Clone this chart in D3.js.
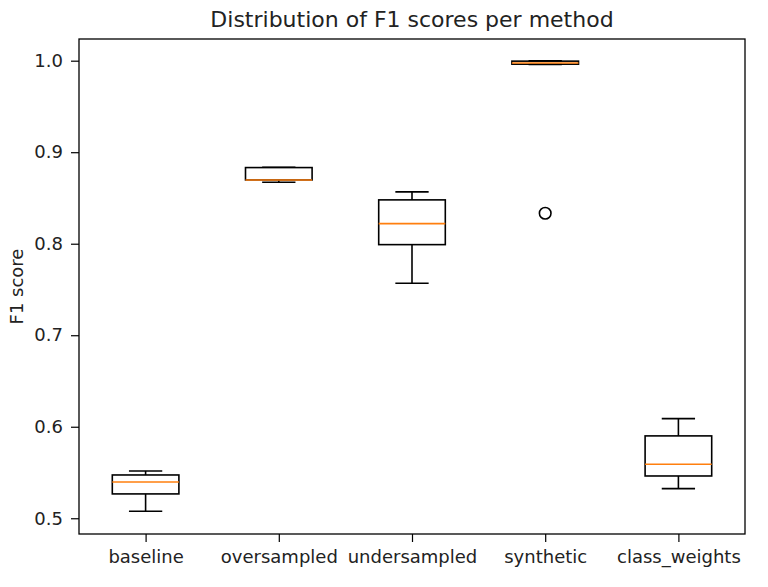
<!DOCTYPE html>
<html>
<head>
<meta charset="utf-8">
<script src="https://cdn.jsdelivr.net/npm/d3@7"></script>
<style>
  body { margin: 0; background: #fff; }
  text { font-family: "DejaVu Sans", sans-serif; fill: #222; }
</style>
</head>
<body>
<div id="chart"></div>
<script>
// methods on the x axis
const methods = ["baseline", "oversampled", "undersampled", "synthetic", "class_weights"];

// box statistics
const whiskerLow  = [0.5077, 0.8672, 0.7568, 0.9958, 0.5324];
const q1          = [0.5266, 0.8697, 0.7990, 0.9962, 0.5462];
const medians     = [0.5397, 0.8697, 0.8220, 0.9975, 0.5590];
const q3          = [0.5473, 0.8832, 0.8479, 0.9995, 0.5900];
const whiskerHigh = [0.5517, 0.8835, 0.8566, 1.0000, 0.6089];
const outliers    = [[], [], [], [0.8333], []];

const yTicks = [0.5, 0.6, 0.7, 0.8, 0.9, 1.0];

const W = 768, H = 587;
const margin = { top: 39, right: 23, bottom: 53, left: 79 };
const width = W - margin.left - margin.right;
const height = H - margin.top - margin.bottom;

const svg = d3.select("#chart").append("svg")
    .attr("width", W)
    .attr("height", H);

const g = svg.append("g")
    .attr("transform", "translate(" + margin.left + "," + margin.top + ")");

// matplotlib places boxes at 1..n with limits 0.5..n+0.5
const x = d3.scaleLinear()
    .domain([0.5, methods.length + 0.5])
    .range([0, width]);

const y = d3.scaleLinear()
    .domain([0.4828, 1.0237])
    .range([height, 0]);

const unit = x(2) - x(1);
const boxW = unit * 0.5;
const capW = unit * 0.25;
const lw = 1.6;

const data = methods.map((m, i) => ({
    key: m,
    pos: i + 1,
    lo: whiskerLow[i], q1: q1[i], med: medians[i], q3: q3[i], hi: whiskerHigh[i],
    fliers: outliers[i]
}));

const boxes = g.selectAll(".box")
    .data(data)
    .enter()
    .append("g")
    .attr("class", "box");

// whiskers
boxes.append("line")
    .attr("x1", d => x(d.pos)).attr("x2", d => x(d.pos))
    .attr("y1", d => y(d.q1)).attr("y2", d => y(d.lo))
    .attr("stroke", "#000").attr("stroke-width", lw);
boxes.append("line")
    .attr("x1", d => x(d.pos)).attr("x2", d => x(d.pos))
    .attr("y1", d => y(d.q3)).attr("y2", d => y(d.hi))
    .attr("stroke", "#000").attr("stroke-width", lw);

// caps
boxes.append("line")
    .attr("x1", d => x(d.pos) - capW / 2).attr("x2", d => x(d.pos) + capW / 2)
    .attr("y1", d => y(d.lo)).attr("y2", d => y(d.lo))
    .attr("stroke", "#000").attr("stroke-width", lw);
boxes.append("line")
    .attr("x1", d => x(d.pos) - capW / 2).attr("x2", d => x(d.pos) + capW / 2)
    .attr("y1", d => y(d.hi)).attr("y2", d => y(d.hi))
    .attr("stroke", "#000").attr("stroke-width", lw);

// box
boxes.append("rect")
    .attr("x", d => x(d.pos) - boxW / 2)
    .attr("width", boxW)
    .attr("y", d => y(d.q3))
    .attr("height", d => Math.max(0.5, y(d.q1) - y(d.q3)))
    .attr("fill", "none")
    .attr("stroke", "#000")
    .attr("stroke-width", lw);

// median
boxes.append("line")
    .attr("x1", d => x(d.pos) - boxW / 2).attr("x2", d => x(d.pos) + boxW / 2)
    .attr("y1", d => y(d.med)).attr("y2", d => y(d.med))
    .attr("stroke", "#ff7f0e").attr("stroke-width", lw);

// outliers
boxes.selectAll(".flier")
    .data(d => d.fliers.map(v => ({ pos: d.pos, v: v })))
    .enter()
    .append("circle")
    .attr("class", "flier")
    .attr("cx", d => x(d.pos))
    .attr("cy", d => y(d.v))
    .attr("r", 5.8)
    .attr("fill", "none")
    .attr("stroke", "#000")
    .attr("stroke-width", lw);

// axes
const xAxis = d3.axisBottom(x)
    .tickValues(data.map(d => d.pos))
    .tickFormat((d, i) => methods[i])
    .tickSize(8)
    .tickPadding(8);

const yAxis = d3.axisLeft(y)
    .tickValues(yTicks)
    .tickFormat(d3.format(".1f"))
    .tickSize(8)
    .tickPadding(8);

const xg = g.append("g")
    .attr("class", "x-axis axis")
    .attr("transform", "translate(0," + height + ")")
    .call(xAxis);

const yg = g.append("g")
    .attr("class", "y-axis axis")
    .call(yAxis);

[xg, yg].forEach(a => {
    a.select(".domain").remove();
    a.selectAll(".tick line").attr("stroke", "#000").attr("stroke-width", 1.2);
    a.selectAll(".tick text").attr("font-size", 18).attr("fill", "#222");
});

// frame
g.append("rect")
    .attr("width", width)
    .attr("height", height)
    .attr("fill", "none")
    .attr("stroke", "#000")
    .attr("stroke-width", 1.3);

// title and label
svg.append("text")
    .attr("x", margin.left + width / 2)
    .attr("y", 27)
    .attr("text-anchor", "middle")
    .attr("font-size", 22)
    .text("Distribution of F1 scores per method");

svg.append("text")
    .attr("transform", "translate(23," + (margin.top + height / 2) + ") rotate(-90)")
    .attr("text-anchor", "middle")
    .attr("font-size", 18)
    .text("F1 score");
</script>
</body>
</html>
